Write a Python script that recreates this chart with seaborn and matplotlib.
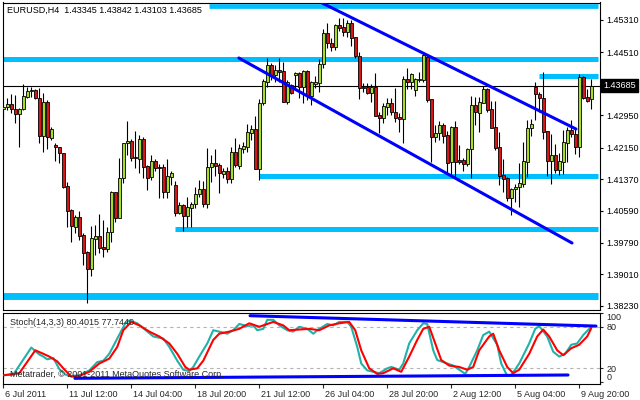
import numpy as np
import pandas as pd
import matplotlib
matplotlib.use("Agg")
import matplotlib.pyplot as plt
from matplotlib.transforms import ScaledTranslation, blended_transform_factory
import seaborn as sns

# EURUSD H4 candles, prices in 1/10000 (pips); bar 0 = 6 Jul 2011 20:00
opens = np.array([
    14311, 14316, 14323, 14311, 14298, 14311, 14340, 14355, 14358, 14338,
    14244, 14328, 14239, 14222, 14217, 14202, 14120, 14061, 14018, 14043,
    13999, 13957, 13914, 13989, 13996, 13969, 13964, 14006, 14105, 14041,
    14140, 14226, 14231, 14192, 14187, 14236, 14170, 14142, 14182, 14167,
    14167, 14105, 14142, 14122, 14053, 14073, 14046, 14066, 14075, 14100,
    14113, 14075, 14167, 14177, 14172, 14150, 14157, 14137, 14204, 14170,
    14212, 14217, 14251, 14261, 14162, 14326, 14377, 14420, 14395, 14407,
    14405, 14328, 14370, 14395, 14400, 14365, 14405, 14343, 14372, 14375,
    14422, 14499, 14474, 14464, 14519, 14514, 14501, 14524, 14489, 14442,
    14363, 14365, 14350, 14365, 14296, 14288, 14316, 14326, 14303, 14291,
    14286, 14385, 14377, 14358, 14382, 14382, 14439, 14335, 14241, 14251,
    14271, 14246, 14179, 14266, 14184, 14184, 14174, 14212, 14321, 14301,
    14326, 14360, 14311, 14266, 14217, 14147, 14140, 14090, 14113, 14118,
    14125, 14179, 14264, 14365, 14348, 14338, 14256, 14182, 14197, 14160,
    14179, 14226, 14259, 14249, 14217, 14390, 14340, 14334.5]) / 1e4
highs = np.array([
    14321, 14338, 14348, 14345, 14313, 14372, 14365, 14365, 14360, 14363,
    14350, 14333, 14266, 14226, 14217, 14202, 14130, 14063, 14048, 14058,
    14004, 13959, 14021, 14023, 14051, 14036, 14018, 14108, 14105, 14189,
    14226, 14281, 14236, 14256, 14246, 14241, 14172, 14197, 14187, 14174,
    14174, 14187, 14157, 14132, 14080, 14075, 14093, 14080, 14118, 14135,
    14132, 14214, 14197, 14212, 14177, 14165, 14167, 14217, 14239, 14224,
    14229, 14274, 14271, 14293, 14335, 14385, 14437, 14424, 14420, 14437,
    14427, 14382, 14372, 14402, 14402, 14407, 14407, 14380, 14392, 14434,
    14509, 14524, 14486, 14521, 14536, 14536, 14531, 14531, 14489, 14452,
    14375, 14375, 14372, 14400, 14303, 14326, 14338, 14338, 14363, 14301,
    14392, 14412, 14400, 14387, 14402, 14449, 14444, 14335, 14271, 14281,
    14276, 14256, 14269, 14281, 14222, 14189, 14214, 14343, 14340, 14340,
    14368, 14363, 14330, 14330, 14254, 14187, 14142, 14115, 14125, 14177,
    14229, 14283, 14286, 14377, 14353, 14402, 14256, 14249, 14224, 14202,
    14259, 14266, 14283, 14264, 14397, 14392, 14360, 14384.2]) / 1e4
lows = np.array([
    14288, 14308, 14301, 14276, 14217, 14308, 14338, 14340, 14335, 14226,
    14204, 14212, 14234, 14182, 14177, 14115, 14018, 13981, 14004, 13986,
    13924, 13830, 13897, 13949, 13954, 13944, 13957, 13981, 14031, 14041,
    14127, 14197, 14182, 14165, 14152, 14140, 14110, 14135, 14157, 14090,
    14090, 14090, 14122, 14046, 14051, 14009, 14018, 14018, 14066, 14093,
    14068, 14066, 14130, 14145, 14103, 14140, 14127, 14127, 14167, 14162,
    14202, 14204, 14234, 14162, 14135, 14321, 14365, 14382, 14377, 14377,
    14328, 14323, 14348, 14363, 14338, 14326, 14333, 14321, 14363, 14353,
    14412, 14462, 14454, 14457, 14504, 14491, 14489, 14467, 14437, 14335,
    14353, 14348, 14328, 14293, 14251, 14276, 14296, 14296, 14278, 14254,
    14226, 14360, 14360, 14343, 14377, 14377, 14328, 14179, 14229, 14234,
    14226, 14152, 14147, 14142, 14174, 14157, 14170, 14140, 14271, 14254,
    14326, 14303, 14264, 14209, 14122, 14105, 14083, 14048, 14080, 14068,
    14118, 14142, 14244, 14283, 14303, 14236, 14145, 14125, 14152, 14147,
    14150, 14179, 14241, 14199, 14192, 14335, 14328, 14310.3]) / 1e4
closes = np.array([
    14316, 14323, 14311, 14298, 14311, 14343, 14355, 14358, 14338, 14244,
    14328, 14241, 14261, 14217, 14202, 14118, 14058, 14021, 14043, 13996,
    13954, 13914, 13991, 13996, 13966, 13964, 14006, 14105, 14041, 14140,
    14226, 14231, 14189, 14189, 14236, 14167, 14140, 14182, 14165, 14165,
    14105, 14145, 14152, 14053, 14073, 14046, 14068, 14075, 14100, 14113,
    14075, 14167, 14177, 14170, 14152, 14157, 14137, 14204, 14172, 14214,
    14219, 14254, 14261, 14162, 14326, 14380, 14420, 14395, 14407, 14402,
    14328, 14377, 14350, 14400, 14365, 14405, 14343, 14377, 14377, 14422,
    14499, 14474, 14464, 14519, 14511, 14501, 14524, 14486, 14442, 14363,
    14365, 14350, 14365, 14293, 14288, 14318, 14326, 14303, 14288, 14286,
    14385, 14377, 14397, 14385, 14385, 14444, 14333, 14241, 14251, 14271,
    14244, 14177, 14266, 14179, 14179, 14174, 14212, 14321, 14303, 14328,
    14360, 14308, 14264, 14214, 14145, 14137, 14090, 14113, 14118, 14127,
    14182, 14264, 14274, 14348, 14338, 14254, 14182, 14197, 14160, 14182,
    14229, 14259, 14249, 14217, 14390, 14338, 14330, 14368.5]) / 1e4

# horizontal zones (price, first bar)
zone_prices = [1.45651, 1.44332, 1.43923, 1.41435, 1.40147, 1.38476]
zone_start = [51.4, -0.2, 133.9, 63.9, 42.9, -0.2]
zone_width = [3.4, 3.6, 3.6, 3.6, 3.6, 5.0]

# channel lines (bar, price)
upper_line = ([79.7, 143.2], [1.45731, 1.42611])
lower_line = ([58.9, 142.2], [1.44369, 1.39788])

# stochastic (14,3,3)
k_idx = [0, 2.5, 7, 9, 10, 11, 12.5, 14, 15.5, 17, 19, 21.5, 23.5, 25, 26.5, 28.5,
         30.5, 31.5, 33.5, 35, 37.5, 40, 41.5, 43.5, 45, 46.5, 47.5, 49, 51, 52.5,
         54, 56, 57.5, 59, 61, 62.5, 63.5, 65, 66, 67.5, 69, 71, 72.5, 74, 76, 77.5,
         79, 81, 82.5, 84, 86, 87, 88.5, 89.5, 91, 92.5, 94, 96, 97, 99, 100, 101.5,
         103.5, 105, 106, 107.5, 108.5, 111, 112.5, 114, 115.5, 116.5, 118.5, 120,
         121.5, 123.5, 124.5, 126, 127, 129, 131.5, 133, 134, 136, 137.5, 139,
         140.5, 142, 143.5, 145, 146.5, 147]
k_val = [10, 11, 50, 40, 37, 33, 35, 19, 11, 9, 10, 17, 29, 31, 41, 63, 85, 89, 85,
         78, 66, 63, 51, 31, 18, 16, 22, 37, 56, 75, 73, 70, 75, 84, 81, 82, 75, 77,
         90, 90, 82, 75, 73, 80, 77, 70, 77, 84, 82, 87, 87, 80, 51, 27, 17, 15, 13,
         20, 22, 18, 27, 56, 75, 85, 84, 46, 32, 27, 24, 18, 12, 22, 46, 68, 73, 54,
         27, 9, 10, 27, 56, 77, 81, 66, 44, 37, 41, 54, 56, 68, 77, 80.4]
d_idx = [0, 4, 8, 10, 11.5, 13.5, 15, 17, 19, 21.5, 24, 26.5, 28.5, 30, 32, 34,
         36.5, 39, 41.5, 43.5, 45.5, 46.5, 48.5, 50, 52.5, 54, 56.5, 59, 61.5, 64,
         66, 67.5, 70, 71.5, 74, 76.5, 79, 81.5, 84, 86.5, 88, 89.5, 91.5, 93.5, 95,
         97.5, 99.5, 101.5, 103.5, 105, 106.5, 108, 109.5, 111.5, 114, 116, 117.5,
         119, 121.5, 122.5, 124, 126, 127.5, 129, 131.5, 133.5, 135, 136.5, 138.5,
         140, 142, 144, 146, 147]
d_val = [10, 13, 46, 41, 37, 30, 20, 8, 9, 15, 27, 34, 51, 75, 87, 82, 73, 66, 56,
         41, 22, 18, 20, 31, 61, 70, 73, 77, 85, 80, 84, 87, 82, 75, 76, 77, 75, 82,
         85, 87, 75, 46, 20, 12, 13, 20, 15, 37, 61, 77, 80, 56, 32, 24, 22, 18, 22,
         46, 66, 70, 46, 22, 13, 18, 41, 66, 76, 66, 46, 39, 49, 54, 66, 77.7]
stoch_upper = ([61.7, 148.2], [96, 81])
stoch_lower = ([17.9, 141.2], [5.6, 10.4])

price_ticks = [1.45310, 1.44510, 1.42950, 1.42150, 1.41370, 1.40590, 1.39790, 1.39010, 1.38230]
time_ticks = [0, 16, 32, 48, 64, 80, 96, 112, 128, 144]
time_labels = ["6 Jul 2011", "11 Jul 12:00", "14 Jul 04:00", "18 Jul 20:00", "21 Jul 12:00",
               "26 Jul 04:00", "28 Jul 20:00", "2 Aug 12:00", "5 Aug 04:00", "9 Aug 20:00"]
last_price = 1.43685

sns.set_style("white")
plt.rcParams["font.family"] = ["Liberation Sans", "DejaVu Sans"]
fs = 6.5

fig = plt.figure(figsize=(6.4, 4.0), dpi=100)
ax = fig.add_axes([2.5 / 640, 1 - 310 / 400, 597.5 / 640, 307.5 / 400])
ax2 = fig.add_axes([2.5 / 640, 1 - 384 / 400, 597.5 / 640, 71.3 / 400])

bull_col = "#A6DE26"
bear_col = "#D81414"
zone_col = "#00BFFF"
line_col = "#0000FF"

# zones drawn behind the bars
for p, s, w in zip(zone_prices, zone_start, zone_width):
    ax.hlines(p, s, 148.8, color=zone_col, lw=w, zorder=1)
ax.axhline(last_price, color="black", lw=0.8, zorder=1.5)

x = np.arange(len(opens))
up = closes >= opens
ax.vlines(x, lows, highs, color="black", lw=0.8, zorder=2)
ax.bar(x, np.abs(closes - opens), bottom=np.minimum(opens, closes), width=0.72,
       color=np.where(up, bull_col, bear_col), edgecolor="black", linewidth=0.6, zorder=3)

sns.lineplot(x=upper_line[0], y=upper_line[1], ax=ax, color=line_col, lw=2.2, zorder=4)
sns.lineplot(x=lower_line[0], y=lower_line[1], ax=ax, color=line_col, lw=2.2, zorder=4)

ax.set_xlim(-0.2, 149.2)
ax.set_ylim(1.38129, 1.45743)
ax.yaxis.tick_right()
ax.set_yticks(price_ticks)
ax.set_yticklabels([f"{v:.5f}" for v in price_ticks])
ax.set_xticks([])
ax.tick_params(axis="y", direction="out", length=2.5, width=0.8, pad=2, labelsize=fs,
               colors="black", right=True, left=False)
for sp in ax.spines.values():
    sp.set_color("black")
    sp.set_linewidth(0.8)

tr = blended_transform_factory(ax.transAxes, ax.transData)
ax.text(1.0 + 3.5 / 597.5, last_price, f"{last_price:.5f}", transform=tr, color="white",
        fontsize=fs, va="center", ha="left", clip_on=False,
        bbox=dict(boxstyle="square,pad=0.25", fc="black", ec="black"))

fig.text(7 / 640, 1 - 10.5 / 400, "EURUSD,H4  1.43345 1.43842 1.43103 1.43685",
         fontsize=fs, va="center", ha="left", color="black")

# stochastic panel
stoch_k = pd.DataFrame({"bar": k_idx, "k": k_val})
stoch_d = pd.DataFrame({"bar": d_idx, "d": d_val})
for lvl in (80, 20):
    ax2.axhline(lvl, color="#B4B4B4", lw=0.8, ls=(0, (3, 3)), zorder=1)
sns.lineplot(data=stoch_k, x="bar", y="k", ax=ax2, color="#20B2AA", lw=1.5, zorder=2)
sns.lineplot(data=stoch_d, x="bar", y="d", ax=ax2, color="#FF0000", lw=1.5, zorder=3)
sns.lineplot(x=stoch_upper[0], y=stoch_upper[1], ax=ax2, color=line_col, lw=2.2, zorder=4)
sns.lineplot(x=stoch_lower[0], y=stoch_lower[1], ax=ax2, color=line_col, lw=2.2, zorder=4)

ax2.set_xlim(-0.2, 149.2)
ax2.set_ylim(-2.6, 100.3)
ax2.set_xlabel("")
ax2.set_ylabel("")
ax2.yaxis.tick_right()
ax2.set_yticks([100, 80, 20, 0])
ax2.set_yticklabels(["100", "80", "20", "0"])
ax2.tick_params(axis="y", direction="out", length=2.5, width=0.8, pad=2, labelsize=fs,
                right=True, left=False)
yl = ax2.get_yticklabels()
yl[0].set_va("top")
yl[3].set_va("bottom")
ax2.set_xticks(time_ticks)
ax2.set_xticklabels(time_labels)
ax2.tick_params(axis="x", direction="out", length=3, width=0.8, pad=1, labelsize=fs,
                bottom=True)
for lab in ax2.get_xticklabels():
    lab.set_ha("left")
    lab.set_transform(lab.get_transform() + ScaledTranslation(1.5 / 72, 0, fig.dpi_scale_trans))
for sp in ax2.spines.values():
    sp.set_color("black")
    sp.set_linewidth(0.8)

ax2.text(7 / 597.5, 0.86, "Stoch(14,3,3) 80.4015 77.7440", transform=ax2.transAxes,
         fontsize=fs, va="center", ha="left", zorder=5)
ax2.text(7 / 597.5, 0.13, "Metatrader, \u00a9 2001-2011 MetaQuotes Software Corp.",
         transform=ax2.transAxes, fontsize=fs, va="center", ha="left", zorder=5)

fig.savefig("out.png", dpi=100)
